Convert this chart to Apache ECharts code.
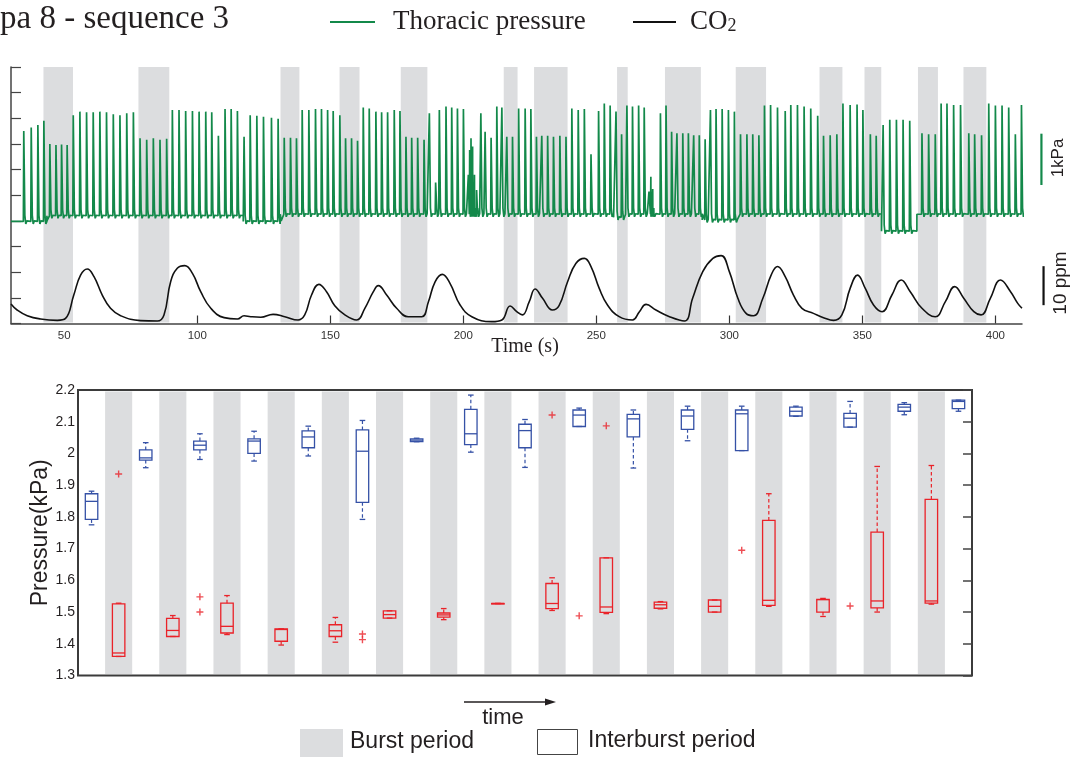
<!DOCTYPE html>
<html>
<head>
<meta charset="utf-8">
<script src="https://cdn.jsdelivr.net/npm/echarts@6/dist/echarts.min.js"></script>
<style>
  html, body { margin: 0; padding: 0; background: #fff; }
  #chart { width: 1074px; height: 759px; }
</style>
</head>
<body>
<div id="chart"></div>
<script>
// ---------- Recording: thoracic pressure and CO2 over time ----------

// Burst periods, start and end in seconds
const burstPeriods = [
  [42.2, 53.3], [77.9, 89.5], [131.3, 138.4], [153.5, 161.0], [176.5, 186.5],
  [215.2, 220.4], [226.6, 239.2], [257.8, 261.8], [275.8, 289.3], [302.4, 313.8],
  [333.9, 342.5], [350.8, 357.1], [370.9, 378.4], [388.0, 396.6]
];

// Pressure baseline level (kPa) between successive time marks [start, end, level]
const baselineLevels = [
  [30, 43.5, 1.99], [43.5, 117.3, 2.10], [117.3, 131.2, 1.99], [131.2, 256.5, 2.13],
  [256.5, 261.0, 2.07], [261.0, 289.8, 2.13], [289.8, 302.2, 2.02], [302.2, 357.2, 2.13],
  [357.2, 370.5, 1.80], [370.5, 411, 2.13]
];

// Ventilation pressure spikes: [time (s), peak (kPa)]
const pressureSpikes = [
  [34.8,3.75],[37.6,3.82],[40.1,3.87],[42.35,3.95],[44.6,3.5],[46.9,3.48],[49.0,3.49],[51.1,3.48],[53.4,4.06],[55.9,4.13],
  [58.4,4.12],[60.9,4.12],[63.4,4.13],[65.9,4.12],[68.45,4.08],[70.95,4.06],[73.5,4.1],[76.0,4.12],[78.5,3.61],[81.0,3.58],
  [83.5,3.61],[86.0,3.58],[88.5,3.6],[90.65,4.16],[93.15,4.16],[95.65,4.14],[98.2,4.14],[100.7,4.13],[103.2,4.13],[105.45,4.12],
  [107.95,3.66],[110.45,4.18],[112.75,4.18],[115.1,4.14],[117.6,3.64],[119.9,4.06],[122.4,4.05],[124.9,4.03],[127.9,4.01],[130.4,3.99],
  [132.7,3.62],[135.05,3.62],[137.3,3.61],[139.45,4.16],[141.95,4.16],[144.45,4.18],[146.7,4.18],[149.0,4.16],[151.1,4.14],[153.6,4.06],
  [155.75,3.61],[158.0,3.61],[160.25,3.56],[162.4,4.21],[164.65,4.19],[167.15,4.13],[169.3,4.12],[171.55,4.12],[174.05,4.16],[176.2,4.14],
  [178.45,3.64],[180.6,3.62],[182.85,3.62],[185.25,3.58],[187.25,4.1],[189.6,2.75],[191.0,4.16],[193.5,4.23],[195.65,4.21],[197.8,4.19],
  [200.05,4.18],[201.9,2.9],[202.4,3.38],[202.9,3.61],[203.5,3.45],[204.2,2.9],[205.0,2.6],
  [206.6,4.1],[208.2,3.74],[210.45,3.62],[212.6,4.23],[214.5,4.21],[216.35,3.64],[218.5,3.64],[220.8,4.19],[223.25,4.19],[225.4,4.18],
  [227.5,3.64],[229.5,3.66],[231.7,3.66],[233.9,3.64],[236.3,3.66],[238.6,3.64],[240.8,4.19],[243.2,4.16],[245.5,4.18],[248.0,3.3],
  [250.85,4.14],[253.0,4.29],[255.2,4.25],[257.4,4.13],[259.5,3.69],[261.5,4.25],[263.6,4.23],[265.9,4.25],[268.0,4.21],[269.8,2.57],
  [270.5,2.86],[271.2,2.62],[274.1,4.1],[276.2,4.25],[278.3,3.74],[280.3,3.71],[282.5,3.71],[284.6,3.71],[286.6,3.67],
  [288.7,3.67],[290.9,3.59],[292.9,4.16],[295.0,4.18],[297.3,4.18],[299.65,4.16],[301.9,4.13],[304.2,3.69],[306.6,3.69],[308.8,3.69],
  [311.1,3.67],[313.2,4.25],[315.5,4.26],[318.1,4.21],[321.0,4.14],[323.1,4.26],[325.6,4.26],[328.1,4.23],[330.6,4.19],[333.2,4.05],
  [335.4,3.66],[337.9,3.67],[340.4,3.69],[342.7,4.29],[345.4,4.26],[348.0,4.27],[350.2,4.16],[353.0,3.69],[355.2,3.66],[357.8,3.87],
  [360.3,3.97],[362.8,3.97],[365.3,3.97],[367.8,3.95],[372.4,3.71],[374.9,3.69],[377.4,3.69],[379.6,4.29],[381.8,4.29],[384.3,4.26],
  [386.9,4.26],[390.0,3.71],[392.2,3.69],[394.8,3.67],[397.5,4.29],[400.0,4.25],[402.5,4.25],[405.0,4.21],[407.5,3.69],[409.8,4.26]
];

// CO2 trace: [time (s), CO2 (ppm above the lowest level)]
const co2Trace = [
  [30,5.0],[32.3,3.46],[36.1,2.0],[41.1,1.15],[47.4,0.81],[50.5,1.3],[53.6,7.3],[56.15,12.4],[58.66,13.97],[61.2,12.0],
  [64.3,7.3],[67.4,3.9],[71.2,2.0],[78.7,0.73],[85.0,0.64],[87.5,2.2],[90.0,10.7],[92.5,14.15],[95.3,14.83],[98.2,12.86],
  [101.3,8.16],[105.1,3.9],[110.1,1.5],[115.1,1.15],[117.6,2.0],[120.1,1.75],[123.9,1.6],[128.5,2.35],[132.9,1.75],[137.9,0.9],
  [140.4,2.2],[142.96,7.3],[145.7,10.04],[148.6,8.16],[151.7,4.57],[155.5,2.2],[159.9,0.9],[163.0,3.9],[166.2,8.16],[168.05,9.7],
  [171.2,7.3],[174.95,3.9],[179.3,1.75],[184.4,1.75],[186.9,5.6],[189.4,10.7],[192.1,12.6],[195.0,10.3],[198.8,4.75],[203.2,1.75],
  [210.7,0.47],[214.5,0.9],[217.6,4.5],[220.1,3.03],[222.2,2.2],[224.8,5.6],[227.0,8.85],[229.8,6.46],[233.5,3.46],[236.0,4.57],
  [239.2,10.7],[242.3,15.4],[245.5,16.7],[248.0,14.6],[251.1,9.0],[254.2,4.75],[258.6,1.75],[263.6,0.9],[266.2,3.03],[268.7,4.9],
  [272.4,3.46],[277.5,1.75],[283.1,0.64],[286.2,6.46],[290.0,13.3],[293.8,16.7],[296.9,17.4],[300.0,13.3],[303.2,6.46],[306.3,2.6],
  [309.1,2.0],[312.6,6.46],[315.7,12.4],[318.1,14.6],[321.0,12.0],[324.1,7.3],[327.3,3.9],[331.6,2.6],[335.4,1.5],[339.2,0.81],
  [342.3,2.2],[345.4,9.0],[348.2,12.4],[351.1,9.0],[354.2,4.75],[357.4,3.03],[361.1,7.3],[364.6,11.15],[368.0,8.16],[372.4,3.9],
  [377.4,1.75],[381.2,5.6],[384.7,9.45],[388.1,6.46],[391.9,3.03],[394.6,2.2],[398.1,6.46],[401.9,11.15],[405.7,8.16],[408.4,5.17],
  [410,3.9]
];

// Scale bars: [time position, from, to]
const pressureScaleBar = [[417.3, 2.7, 3.7]];   // 1 kPa
const co2ScaleBar = [[418.1, 4.7, 14.7]];        // 10 ppm

const timeLabels = [50, 100, 150, 200, 250, 300, 350, 400];
const timeTicks = [100, 150, 200, 250, 300, 350, 400];

// ---------- Box plots: peak pressure per period ----------
const periods = [
  'Interburst 1','Burst 1','Interburst 2','Burst 2','Interburst 3','Burst 3','Interburst 4','Burst 4',
  'Interburst 5','Burst 5','Interburst 6','Burst 6','Interburst 7','Burst 7','Interburst 8','Burst 8',
  'Interburst 9','Burst 9','Interburst 10','Burst 10','Interburst 11','Burst 11','Interburst 12','Burst 12',
  'Interburst 13','Burst 13','Interburst 14','Burst 14','Interburst 15','Burst 15','Interburst 16','Burst 16',
  'Interburst 17'
];

// [lower whisker, Q1, median, Q3, upper whisker] in kPa
const interburstStats = [
  [1.775, 1.792, 1.849, 1.873, 1.881],
  [1.955, 1.979, 1.986, 2.011, 2.034],
  [1.981, 2.011, 2.026, 2.039, 2.062],
  [1.976, 2.000, 2.039, 2.046, 2.070],
  [1.992, 2.018, 2.052, 2.071, 2.086],
  [1.792, 1.846, 2.007, 2.074, 2.104],
  [2.037, 2.037, 2.042, 2.046, 2.048],
  [2.004, 2.028, 2.062, 2.139, 2.184],
  [1.956, 2.018, 2.072, 2.092, 2.107],
  [2.085, 2.085, 2.121, 2.137, 2.143],
  [1.954, 2.052, 2.109, 2.123, 2.137],
  [2.040, 2.076, 2.118, 2.137, 2.149],
  [2.009, 2.009, 2.125, 2.137, 2.149],
  [2.117, 2.118, 2.133, 2.146, 2.149],
  [2.083, 2.083, 2.111, 2.126, 2.164],
  [2.122, 2.133, 2.146, 2.155, 2.160],
  [2.133, 2.141, 2.164, 2.168, 2.168]
];
const burstStats = [
  [1.360, 1.360, 1.371, 1.526, 1.528],
  [1.423, 1.423, 1.442, 1.480, 1.489],
  [1.429, 1.434, 1.455, 1.528, 1.552],
  [1.396, 1.408, 1.445, 1.447, 1.447],
  [1.405, 1.423, 1.441, 1.460, 1.483],
  [1.481, 1.481, 1.492, 1.504, 1.504],
  [1.476, 1.484, 1.491, 1.497, 1.511],
  [1.527, 1.527, 1.527, 1.527, 1.527],
  [1.505, 1.511, 1.527, 1.590, 1.608],
  [1.495, 1.499, 1.516, 1.671, 1.671],
  [1.510, 1.512, 1.523, 1.531, 1.533],
  [1.500, 1.500, 1.518, 1.538, 1.538],
  [1.518, 1.521, 1.537, 1.789, 1.873],
  [1.486, 1.500, 1.539, 1.540, 1.543],
  [1.500, 1.513, 1.535, 1.752, 1.959],
  [1.525, 1.528, 1.535, 1.855, 1.962]
];
// Outliers: [period, kPa]
const outliers = [
  ['Burst 1', 1.935], ['Interburst 3', 1.548], ['Interburst 3', 1.500],
  ['Interburst 6', 1.431], ['Interburst 6', 1.413], ['Burst 9', 2.121],
  ['Interburst 10', 1.488], ['Burst 10', 2.087], ['Interburst 13', 1.695],
  ['Interburst 15', 1.519]
];

// ---------- Build series data ----------
function baselineAt(t) {
  for (const [a, b, v] of baselineLevels) if (t >= a && t < b) return v;
  return baselineLevels[baselineLevels.length - 1][2];
}
const pressurePoints = [];
baselineLevels.forEach(([a, b, v], k) => {
  if (k > 0) pressurePoints.push([a - 0.01, baselineLevels[k - 1][2]]);
  pressurePoints.push([a, v]);
});
pressureSpikes.forEach(([t, peak]) => {
  const b = baselineAt(t);
  // each breath: fast rise, fast fall, small undershoot, return to baseline
  pressurePoints.push([t - 0.15, b], [t, peak], [t + 0.4, b + 0.12], [t + 0.75, b - 0.05], [t + 1.15, b + 0.01]);
});
pressurePoints.sort((p, q) => p[0] - q[0]);

const interburstData = interburstStats.map((s, k) => [periods.indexOf('Interburst ' + (k + 1)), ...s]);
const burstData = burstStats.map((s, k) => [periods.indexOf('Burst ' + (k + 1)), ...s]);
const burstBandData = periods.map((p, i) => p.startsWith('Burst') ? [i] : null).filter(Boolean);
const outlierData = outliers.map(([p, v]) => [periods.indexOf(p), v]);

const BAND = '#dcdddf';
const GREEN = '#13894a';
const BLUE = '#3551a6';
const RED = '#ea2229';
const INK = '#231f20';

function boxRenderer(color) {
  return function (params, api) {
    const i = api.value(0);
    const lo = api.value(1), q1 = api.value(2), md = api.value(3), q3 = api.value(4), hi = api.value(5);
    const x = api.coord([i, md])[0];
    const y = v => api.coord([i, v])[1];
    const bw = api.size([1, 0])[0] * 0.46;
    const cw = bw * 0.45;
    const solid = { stroke: color, lineWidth: 1.3, fill: null };
    const dashed = { stroke: color, lineWidth: 1.2, lineDash: [3.5, 2.5], fill: null };
    return {
      type: 'group',
      children: [
        { type: 'line', shape: { x1: x, y1: y(q3), x2: x, y2: y(hi) }, style: dashed },
        { type: 'line', shape: { x1: x, y1: y(q1), x2: x, y2: y(lo) }, style: dashed },
        { type: 'line', shape: { x1: x - cw / 2, y1: y(hi), x2: x + cw / 2, y2: y(hi) }, style: solid },
        { type: 'line', shape: { x1: x - cw / 2, y1: y(lo), x2: x + cw / 2, y2: y(lo) }, style: solid },
        { type: 'rect', shape: { x: x - bw / 2, y: y(q3), width: bw, height: Math.max(y(q1) - y(q3), 0.5) }, style: solid },
        { type: 'line', shape: { x1: x - bw / 2, y1: y(md), x2: x + bw / 2, y2: y(md) }, style: solid }
      ]
    };
  };
}

const chart = echarts.init(document.getElementById('chart'));

chart.setOption({
  animation: false,
  backgroundColor: '#fff',
  textStyle: { fontFamily: 'Liberation Sans' },
  grid: [
    { left: 11, right: 52, top: 67, height: 256.5 },
    { left: 78, right: 102, top: 390, height: 285.5, show: true, borderColor: '#3b3b3b', borderWidth: 2, backgroundColor: 'transparent' }
  ],
  xAxis: [
    {
      gridIndex: 0, type: 'value', min: 30, max: 410,
      axisLine: { lineStyle: { color: '#444', width: 1.5 } },
      axisTick: { inside: true, length: 8, customValues: timeTicks, lineStyle: { color: '#333', width: 1.2 } },
      axisLabel: { customValues: timeLabels, color: '#333', fontSize: 11.5, margin: 6 },
      splitLine: { show: false }
    },
    {
      gridIndex: 1, type: 'category', data: periods,
      axisLine: { show: false }, axisTick: { show: false }, axisLabel: { show: false }, splitLine: { show: false }
    }
  ],
  yAxis: [
    {
      gridIndex: 0, type: 'value', min: 0, max: 5, interval: 0.5,
      axisLine: { show: true, lineStyle: { color: '#444', width: 1.5 } },
      axisTick: { show: true, inside: true, length: 10, lineStyle: { color: '#444', width: 1.2 } },
      axisLabel: { show: false }, splitLine: { show: false }
    },
    {
      gridIndex: 0, type: 'value', min: 0, max: 65.77, show: false
    },
    {
      gridIndex: 1, type: 'value', min: 1.3, max: 2.2, interval: 0.1,
      axisLine: { show: false }, axisTick: { show: false },
      axisLabel: { color: INK, fontSize: 14, margin: 3, formatter: v => String(+v.toFixed(1)) },
      splitLine: { show: false },
      name: 'Pressure(kPa)', nameLocation: 'middle', nameGap: 26, nameMoveOverlap: false,
      nameTextStyle: { fontSize: 23, color: INK }
    },
    {
      gridIndex: 1, type: 'value', position: 'right', min: 1.3, max: 2.2, interval: 0.1,
      axisLine: { show: false },
      axisTick: { show: true, inside: true, length: 9, lineStyle: { color: '#444', width: 1.5 } },
      axisLabel: { show: false }, splitLine: { show: false }
    }
  ],
  series: [
    {
      name: 'Burst periods', type: 'custom', xAxisIndex: 0, yAxisIndex: 0, z: 1,
      data: burstPeriods,
      renderItem(params, api) {
        const cs = params.coordSys;
        const x1 = api.coord([api.value(0), 0])[0];
        const x2 = api.coord([api.value(1), 0])[0];
        return { type: 'rect', shape: { x: x1, y: cs.y, width: x2 - x1, height: cs.height - 1 }, style: { fill: BAND } };
      }
    },
    {
      name: 'Thoracic pressure', type: 'line', xAxisIndex: 0, yAxisIndex: 0, z: 3,
      data: pressurePoints, showSymbol: false, symbol: 'none',
      lineStyle: { color: GREEN, width: 1.7 }
    },
    {
      name: 'CO2', type: 'line', xAxisIndex: 0, yAxisIndex: 1, z: 3,
      data: co2Trace, showSymbol: false, symbol: 'none', smooth: 0.45,
      lineStyle: { color: '#111', width: 1.6 }
    },
    {
      name: '1 kPa', type: 'custom', xAxisIndex: 0, yAxisIndex: 0, clip: false, z: 3,
      data: pressureScaleBar,
      renderItem(params, api) {
        const a = api.coord([api.value(0), api.value(1)]);
        const b = api.coord([api.value(0), api.value(2)]);
        return { type: 'line', shape: { x1: a[0], y1: a[1], x2: b[0], y2: b[1] }, style: { stroke: GREEN, lineWidth: 2.2 } };
      }
    },
    {
      name: '10 ppm', type: 'custom', xAxisIndex: 0, yAxisIndex: 1, clip: false, z: 3,
      data: co2ScaleBar,
      renderItem(params, api) {
        const a = api.coord([api.value(0), api.value(1)]);
        const b = api.coord([api.value(0), api.value(2)]);
        return { type: 'line', shape: { x1: a[0], y1: a[1], x2: b[0], y2: b[1] }, style: { stroke: '#111', lineWidth: 2.2 } };
      }
    },
    {
      name: 'Burst bands', type: 'custom', xAxisIndex: 1, yAxisIndex: 2, z: 1,
      data: burstBandData,
      renderItem(params, api) {
        const cs = params.coordSys;
        const w = api.size([1, 0])[0];
        const cx = api.coord([api.value(0), 1.3])[0];
        return { type: 'rect', shape: { x: cx - w / 2, y: cs.y + 1.5, width: w, height: cs.height - 3 }, style: { fill: BAND } };
      }
    },
    {
      name: 'Interburst period', type: 'custom', xAxisIndex: 1, yAxisIndex: 2, z: 3,
      data: interburstData, renderItem: boxRenderer(BLUE)
    },
    {
      name: 'Burst period', type: 'custom', xAxisIndex: 1, yAxisIndex: 2, z: 3,
      data: burstData, renderItem: boxRenderer(RED)
    },
    {
      name: 'Outliers', type: 'scatter', xAxisIndex: 1, yAxisIndex: 2, z: 4,
      data: outlierData,
      symbol: 'path://M5,0L5,10M0,5L10,5', symbolSize: 7,
      itemStyle: { color: 'rgba(0,0,0,0)', borderColor: RED, borderWidth: 1.4 }
    }
  ],
  graphic: [
    { type: 'text', x: 0, y: 19, style: { text: 'pa 8 - sequence 3', font: '33px "Liberation Serif"', fill: INK, verticalAlign: 'middle' } },
    { type: 'line', shape: { x1: 330, y1: 22, x2: 375, y2: 22 }, style: { stroke: GREEN, lineWidth: 2 } },
    { type: 'text', x: 393, y: 22, style: { text: 'Thoracic pressure', font: '27px "Liberation Serif"', fill: INK, verticalAlign: 'middle' } },
    { type: 'line', shape: { x1: 633, y1: 22, x2: 676, y2: 22 }, style: { stroke: '#111', lineWidth: 2 } },
    {
      type: 'text', x: 690, y: 22,
      style: {
        text: '{a|CO}{b|2}', verticalAlign: 'middle', fill: INK,
        rich: {
          a: { font: '27px "Liberation Serif"', fill: INK },
          b: { font: '18px "Liberation Serif"', fill: INK, padding: [9, 0, 0, 0] }
        }
      }
    },
    { type: 'text', x: 525, y: 347, style: { text: 'Time (s)', font: '20px "Liberation Serif"', fill: INK, align: 'center', verticalAlign: 'middle' } },
    { type: 'text', x: 1058, y: 158, rotation: Math.PI / 2, style: { text: '1kPa', font: '17px "Liberation Sans"', fill: INK, align: 'center', verticalAlign: 'middle' } },
    { type: 'text', x: 1061, y: 283, rotation: Math.PI / 2, style: { text: '10 ppm', font: '19px "Liberation Sans"', fill: INK, align: 'center', verticalAlign: 'middle' } },
    { type: 'line', shape: { x1: 464, y1: 702, x2: 548, y2: 702 }, style: { stroke: INK, lineWidth: 1.3 } },
    { type: 'polygon', shape: { points: [[545, 698.5], [556, 702], [545, 705.5]] }, style: { fill: INK } },
    { type: 'text', x: 503, y: 718, style: { text: 'time', font: '22px "Liberation Sans"', fill: INK, align: 'center', verticalAlign: 'middle' } },
    { type: 'rect', shape: { x: 300, y: 729, width: 43, height: 28 }, style: { fill: BAND } },
    { type: 'text', x: 350, y: 742, style: { text: 'Burst period', font: '23px "Liberation Sans"', fill: INK, verticalAlign: 'middle' } },
    { type: 'rect', shape: { x: 537.5, y: 729.5, width: 40, height: 25 }, style: { fill: '#fff', stroke: '#444', lineWidth: 1 } },
    { type: 'text', x: 588, y: 741, style: { text: 'Interburst period', font: '23px "Liberation Sans"', fill: INK, verticalAlign: 'middle' } }
  ]
});
</script>
</body>
</html>
